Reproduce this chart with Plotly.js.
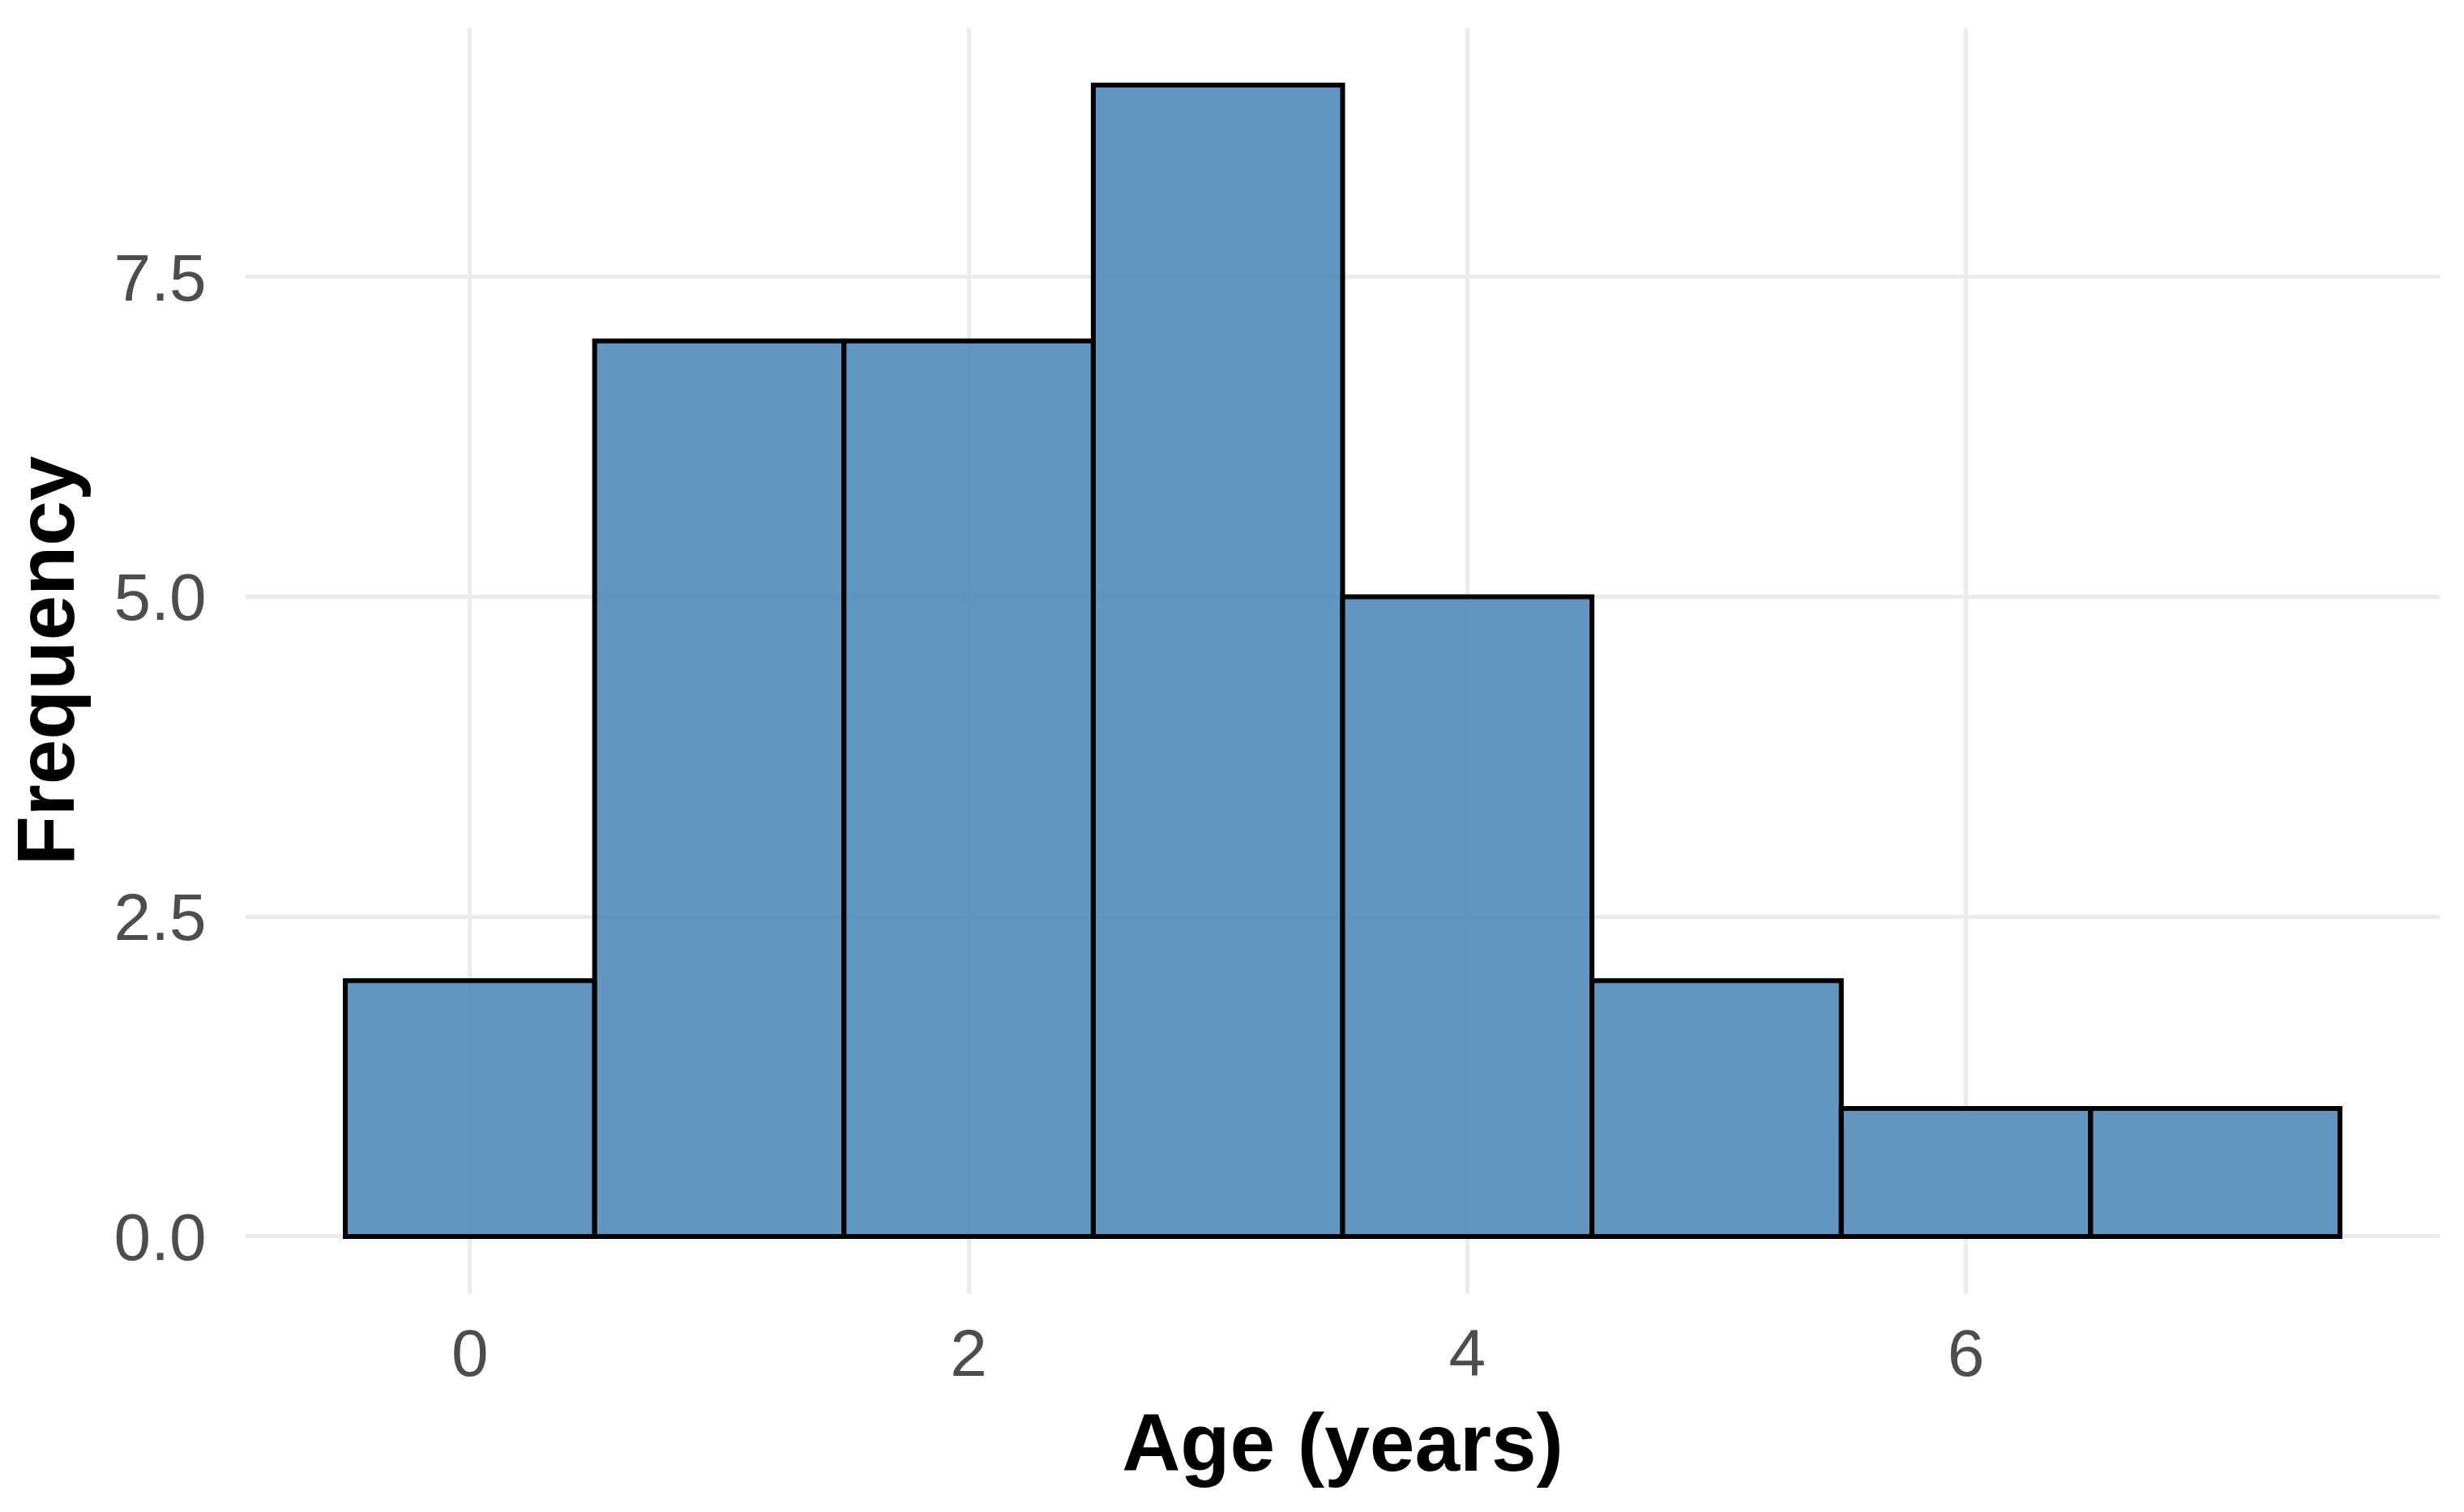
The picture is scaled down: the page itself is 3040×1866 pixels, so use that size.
<!DOCTYPE html>
<html>
<head>
<meta charset="utf-8">
<script src="https://cdn.plot.ly/plotly-3.0.1.min.js"></script>
<style>html,body{margin:0;padding:0;background:#fff;}#chart{width:3040px;height:1866px;}</style>
</head>
<body>
<div id="chart"></div>
<script>
// Data
const ages = [0, 1, 2, 3, 4, 5, 6, 7];
const counts = [2, 7, 7, 9, 5, 2, 1, 1];
const xTickVals = [0, 2, 4, 6];
const yTickVals = [0, 2.5, 5, 7.5];
const yTickText = ["0.0", "2.5", "5.0", "7.5"];

const trace = {
  type: 'bar',
  x: ages,
  y: counts,
  width: 1,
  marker: {
    color: 'rgba(70,130,180,0.85)',
    line: {color: '#000000', width: 6}
  },
  hoverinfo: 'x+y'
};

const FONT = 'Liberation Sans, Arial, sans-serif';

const layout = {
  width: 3040,
  height: 1866,
  paper_bgcolor: '#ffffff',
  plot_bgcolor: '#ffffff',
  margin: {l: 303, r: 30, t: 34, b: 269, pad: 0},
  showlegend: false,
  bargap: 0,
  font: {family: FONT, color: '#4D4D4D'},
  xaxis: {
    range: [-0.9, 7.9],
    tickvals: xTickVals,
    ticktext: xTickVals.map(String),
    showgrid: true,
    gridcolor: '#EBEBEB',
    gridwidth: 5,
    zeroline: false,
    showline: false,
    ticks: 'outside',
    ticklen: 2,
    tickcolor: 'rgba(0,0,0,0)',
    tickfont: {size: 82, color: '#4D4D4D', family: FONT},
    title: {text: '<b>Age (years)</b>', font: {size: 100, color: '#000000', family: FONT}, standoff: 30},
    automargin: false,
    fixedrange: true
  },
  yaxis: {
    range: [-0.45, 9.45],
    tickvals: yTickVals,
    ticktext: yTickText,
    showgrid: true,
    gridcolor: '#EBEBEB',
    gridwidth: 5,
    zeroline: false,
    showline: false,
    ticks: 'outside',
    ticklen: 31,
    tickcolor: 'rgba(0,0,0,0)',
    tickfont: {size: 82, color: '#4D4D4D', family: FONT},
    title: {text: '<b>Frequency</b>', font: {size: 100, color: '#000000', family: FONT}, standoff: 20},
    automargin: false,
    fixedrange: true
  }
};

Plotly.newPlot('chart', [trace], layout, {displayModeBar: false, staticPlot: true});
</script>
</body>
</html>
